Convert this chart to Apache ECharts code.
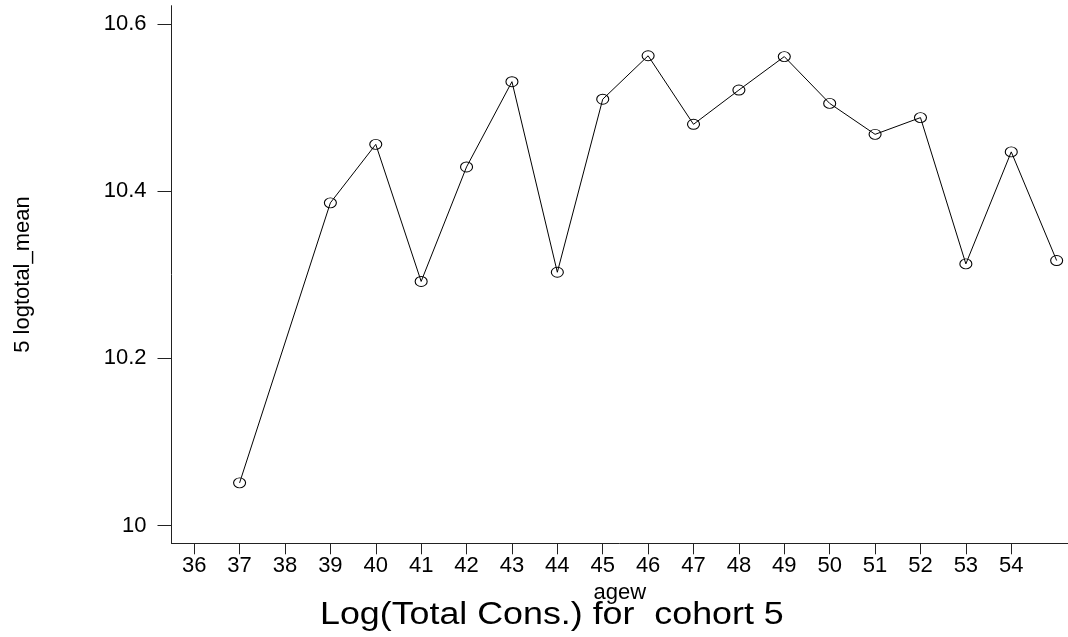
<!DOCTYPE html>
<html>
<head>
<meta charset="utf-8">
<script src="https://cdn.jsdelivr.net/npm/echarts@6/dist/echarts.min.js"></script>
<style>
html,body{margin:0;padding:0;background:#fff;}
#chart{width:1068px;height:637px;}
</style>
</head>
<body>
<div id="chart"></div>
<script>
const ages = [37, 39, 40, 41, 42, 43, 44, 45, 46, 47, 48, 49, 50, 51, 52, 53, 54, 55];
const logtotalMean = [10.051, 10.386, 10.456, 10.292, 10.429, 10.531, 10.303, 10.510, 10.562, 10.480, 10.521, 10.561, 10.505, 10.468, 10.488, 10.313, 10.447, 10.317];
const xTicks = [36, 37, 38, 39, 40, 41, 42, 43, 44, 45, 46, 47, 48, 49, 50, 51, 52, 53, 54];
const yTicks = [10, 10.2, 10.4, 10.6];
const titleText = 'Log(Total Cons.) for  cohort 5';

const chart = echarts.init(document.getElementById('chart'), null, {renderer: 'canvas'});
const font = 'Liberation Sans, Arial, sans-serif';
chart.setOption({
  animation: false,
  backgroundColor: '#fff',
  graphic: [{
    type: 'text',
    left: 320,
    top: 600,
    scaleX: 1.155,
    style: {
      text: titleText,
      font: 'normal 31px Liberation Sans, Arial, sans-serif',
      fill: '#000'
    }
  }],
  grid: {left: 171.5, right: 0, top: 5.7, bottom: 93.7, containLabel: false},
  xAxis: {
    type: 'value',
    min: 35.5,
    max: 55.25,
    name: 'agew',
    nameLocation: 'middle',
    nameGap: 32,
    nameTextStyle: {fontFamily: font, fontSize: 22, color: '#000'},
    axisLine: {show: true, onZero: false, lineStyle: {color: '#222', width: 1}},
    axisTick: {show: true, length: 11, lineStyle: {color: '#222'}, customValues: xTicks},
    axisLabel: {fontFamily: font, fontSize: 22, color: '#000', margin: 12, customValues: xTicks},
    splitLine: {show: false}
  },
  yAxis: {
    type: 'value',
    min: 9.9787,
    max: 10.6219,
    name: '5 logtotal_mean',
    nameLocation: 'middle',
    nameRotate: 90,
    nameGap: 138,
    nameTextStyle: {fontFamily: font, fontSize: 22, color: '#000'},
    axisLine: {show: true, onZero: false, lineStyle: {color: '#222', width: 1}},
    axisTick: {show: true, length: 14, lineStyle: {color: '#222'}, customValues: yTicks},
    axisLabel: {fontFamily: font, fontSize: 22, color: '#000', margin: 25, customValues: yTicks,
      formatter: v => (Math.round(v * 10) / 10).toString()},
    splitLine: {show: false}
  },
  series: [{
    type: 'line',
    data: ages.map((a, i) => [a, logtotalMean[i]]),
    symbol: 'circle',
    symbolSize: [12, 10],
    showSymbol: true,
    lineStyle: {color: '#000', width: 1},
    itemStyle: {color: 'rgba(255,255,255,0)', borderColor: '#000', borderWidth: 1},
    emphasis: {disabled: true}
  }]
});
</script>
</body>
</html>
